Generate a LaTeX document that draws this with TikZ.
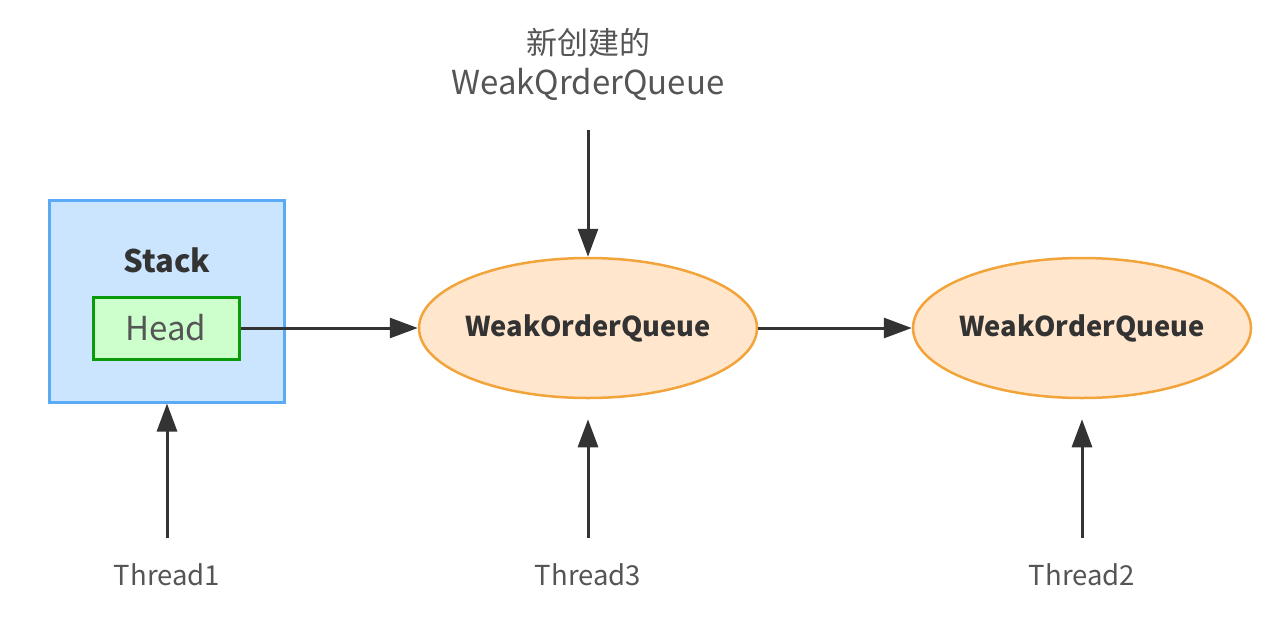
\documentclass[tikz,border=0pt]{standalone}
\usepackage{fontspec}
\setmainfont{Noto Sans CJK SC}
\usetikzlibrary{shapes.geometric,arrows.meta}
\definecolor{stackfill}{HTML}{CCE5FF}
\definecolor{stackline}{HTML}{5AAAF5}
\definecolor{headfill}{HTML}{CCFFCC}
\definecolor{headline}{HTML}{0A9A0A}
\definecolor{qfill}{HTML}{FFE6CC}
\definecolor{qline}{HTML}{F2A33A}
\definecolor{ink}{HTML}{333333}
\definecolor{lbl}{HTML}{555555}
\tikzset{
  conn/.style={line width=3pt, draw=ink, -{Triangle[length=28pt,width=20pt]}},
  queue/.style={ellipse, draw=qline, fill=qfill, line width=2.5pt, minimum width=338pt, minimum height=140pt, inner sep=0pt, text=ink, font=\fontsize{27.3}{32}\selectfont\bfseries},
  lab/.style={text=lbl, font=\fontsize{27.5}{32}\selectfont, inner sep=0pt}
}
\begin{document}
\begin{tikzpicture}[x=1pt,y=-1pt]
\useasboundingbox (0,0) rectangle (1280,622);
\node[draw=stackline, fill=stackfill, line width=3pt, minimum width=235pt, minimum height=202pt, inner sep=0pt] (stack) at (167,301) {};
\node[text=ink, font=\fontsize{31}{36}\selectfont\bfseries, inner sep=0pt] (stacklbl) at (167,260) {Stack};
\node[draw=headline, fill=headfill, line width=3pt, minimum width=146pt, minimum height=62pt, inner sep=0pt, text=lbl, font=\fontsize{33}{38}\selectfont] (head) at (166,328) {Head};
\node[queue] (q1) at (588,328) {\makebox[0pt]{WeakOrderQueue}};
\node[queue] (q2) at (1082,328) {\makebox[0pt]{WeakOrderQueue}};
\node[lab, align=center, font=\fontsize{31}{40}\selectfont] (newq) at (588,64) {新创建的\\{\fontsize{33}{40}\selectfont WeakQrderQueue}};
\coordinate (top) at (588,130);
\node[lab] (t1) at (167,575) {Thread1};
\node[lab] (t3) at (588,575) {Thread3};
\node[lab] (t2) at (1082,575) {Thread2};
\coordinate (b1) at (167,538);
\coordinate (b3) at (588,538);
\coordinate (b2) at (1082,538);
\draw[conn] (head.east) -- (q1.west);
\draw[conn] (q1.east) -- (q2.west);
\draw[conn] (top) -- (q1.north);
\draw[conn] (b1) -- (stack.south);
\draw[conn] (b3) -- ([yshift=-20pt]q1.south);
\draw[conn] (b2) -- ([yshift=-20pt]q2.south);
\end{tikzpicture}
\end{document}
